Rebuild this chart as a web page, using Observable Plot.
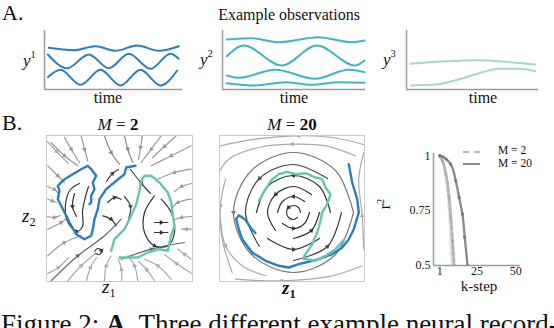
<!DOCTYPE html>
<html><head><meta charset="utf-8">
<script src="https://cdn.jsdelivr.net/npm/d3@7"></script>
<script src="https://cdn.jsdelivr.net/npm/@observablehq/plot@0.6"></script>
<style>
body{margin:0;background:#fff;width:554px;height:328px;overflow:hidden;position:relative;font-family:"Liberation Serif",serif;color:#111;}
.abs{position:absolute;white-space:nowrap;line-height:1;}
.p{position:absolute;}
.p svg{display:block;background:transparent;}
</style></head><body>
<script>
// ---------- Panel A data (time, value) ----------
const a1Lines = [
 [[4.3,41.7],[29.3,39.3],[51,43.3],[71,38.7],[92.7,44],[114.3,38.7],[134.3,43.3]],
 [[3.3,35],[22.7,21.3],[44.3,35],[64.3,21.3],[84.3,35.7],[106,20.7],[126,35.7],[134.3,30.7]],
 [[3.3,12.3],[16,19.7],[36,4.7],[56,19.7],[76,4],[96,19.7],[116,4],[132.7,19]]
];
const a2Lines = [
 [[4.3,50],[29.3,51.3],[56,47.3],[96,52.3],[129.3,47.3],[142,49]],
 [[4.3,33.3],[21,44],[59.3,24],[94.3,44],[132.7,24],[142,29]],
 [[4.3,14],[16,11.7],[52.7,19.7],[92.7,10.7],[126,19.7],[142,17.3]],
 [[4.3,6.3],[32.7,4],[62.7,7.3],[89.3,4.7],[116,7.3],[142,6.7]]
];
const a3Lines = [
 [[4.3,25.7],[36,28],[72.7,29.3],[96,28],[128.7,25]],
 [[4.3,4],[29.3,5],[56,11.3],[76,17.3],[92.7,20.7],[112.7,20.7],[128.7,18.3]]
];
const colA = ["#2c7fb8","#41b6c4","#a8dcb8"];

// ---------- Panel B: streamlines (z1, z2) ----------
const m2Streams = [
 ["#999",[[4.7,139],[18,125.7],[31.3,115.7]]],
 ["#999",[[18,144],[24.7,132.3],[33,119]]],
 ["#999",[[34.7,145.7],[38,132.3],[41.3,120.7]]],
 ["#888",[[58,145.7],[64.7,129],[73,117.3]]],
 ["#888",[[78,145.7],[81.3,132.3],[86.3,119]]],
 ["#999",[[114.7,145.7],[104.7,132.3],[94.7,119]]],
 ["#999",[[144.7,135.7],[124.7,125.7],[104.7,115.7]]],
 ["#999",[[144.7,112.3],[128,109],[111.3,102.3]]],
 ["#999",[[1.3,115.7],[11.3,105.7],[18,99]]],
 ["#999",[[1.3,82.3],[6,80.5],[9.7,79]]],
 ["#999",[[1.3,52.3],[14.7,59],[21.3,64]]],
 ["#999",[[1.3,25.7],[18,39],[34.7,45.7]]],
 ["#666",[[4.7,0.7],[31.3,25.7],[58,45.7],[74.7,62.3]]],
 ["#aaa",[[21.3,0.7],[34.7,15.7],[48,27.3]]],
 ["#aaa",[[58,0.7],[59.7,15.7],[64.7,25.7]]],
 ["#aaa",[[91.3,0.7],[88,15.7],[81.3,25.7]]],
 ["#aaa",[[124.7,2.3],[111.3,15.7],[98,22.3]]],
 ["#666",[[74.7,22.3],[104.7,32.3],[138,39]]],
 ["#999",[[144.7,82.3],[131.3,79],[124.7,72.3]]],
 ["#999",[[144.7,52.3],[139.7,52.3],[134.7,52.3]]],
 ["#aaa",[[144.7,22.3],[138,27.3],[131.3,32.3]]],
 ["#aaa",[[1,140],[10,130],[22,118]]],
 ["#999",[[1,95],[8,92],[12,88]]],
 ["#999",[[1,65],[8,64],[14,66]]],
 ["#aaa",[[1,8],[12,14],[22,24]]],
 ["#aaa",[[40,1],[44,14],[50,24]]],
 ["#aaa",[[75,1],[75,12],[72,22]]],
 ["#aaa",[[108,1],[100,12],[92,20]]],
 ["#aaa",[[145,8],[130,18],[118,27]]],
 ["#999",[[145,65],[135,64],[128,62]]],
 ["#999",[[145,98],[135,95],[128,90]]],
 ["#999",[[130,146],[118,135],[106,124]]],
 ["#999",[[96,146],[94,134],[92,122]]],
 ["#444",[[84,112],[95,98],[104,88]]],
 ["#444",[[60,100],[66,108],[72,112]]],
 ["#444",[[78,85],[84,75],[82,62]]],
 ["#333",[[33,98],[24,92],[19,77],[21,60],[30,50],[36,55],[36,70],[39,85],[42,95]]],
 ["#333",[[28,88],[26,75],[30,65]]],
 ["#333",[[61.3,79],[68,84],[74.7,82.3]]],
 ["#333",[[56.3,65.7],[64.7,62.3],[69.7,55.7]]],
 ["#333",[[48,30],[51,33],[55,31],[53,27],[49,28]]],
 ["#333",[[108,85.7],[98,69],[98,49],[108,35.7],[121.3,35.7],[128,49],[124.7,69],[114.7,82.3]]],
 ["#333",[[108,59],[114.7,59],[121.3,59]]],
 ["#333",[[108,49],[114.7,49],[121.3,49]]]
];
const m20Streams = [
 ["#333",[[81,69],[79,74],[74,76],[69,74],[67,69],[69,64],[74,62],[78,64]]],
 ["#333",[[85,80],[74,85],[63,80],[58,69]]],
 ["#333",[[63,58],[74,53],[85,58],[90,69]]],
 ["#333",[[92,87],[74,95],[56,87],[48,69],[56,51]]],
 ["#333",[[74,43],[92,51],[100,69]]],
 ["#333",[[111,69],[100,95],[74,106],[48,95],[37,69]]],
 ["#333",[[48,43],[74,32],[100,43]]],
 ["#444",[[108,103],[74,117],[40,103],[26,69],[40,35]]],
 ["#444",[[74,21],[108,35],[122,69]]],
 ["#777",[[134,69],[116,111],[74,129],[32,111],[14,69],[32,27],[74,9],[116,27],[134,69]]],
 ["#aaa",[[149.3,135.7],[112.7,144],[79.3,145.7],[36,142.3],[1,135.7]]],
 ["#aaa",[[136,125.7],[106,135.7],[72.7,137.3],[39.3,134],[9.3,122.3],[-0.7,109]]],
 ["#aaa",[[6,102.3],[1,75.7],[2.7,42.3],[12.7,9]]],
 ["#aaa",[[16,2.3],[62.7,0.7],[112.7,5.7],[142.7,15.7]]],
 ["#aaa",[[144.3,32.3],[142.7,65.7],[139.3,102.3],[144.3,129]]],
 ["#aaa",[[1,62.3],[6,35.7],[22.7,15.7],[46,5.7]]]
];
const m2Blue = [[89,115.7],[79.7,114],[78,107.3],[69.7,100.7],[59.7,92.3],[53,82.3],[51.3,72.3],[48,62.3],[46.3,52.3],[44.7,45.7],[38,42.3],[29.7,47.3],[23,59],[19.7,65.7],[14.7,75.7],[11.3,82.3],[13,90.7],[11.3,95.7],[18,102.3],[26.3,107.3],[34.7,112.3],[41.3,115.7],[44.7,112.3],[49.7,105.7],[46.3,99],[48,92.3],[44.7,85.7],[44.7,79],[43,77.3]];
const m2Teal = [[64.7,30.7],[68,42.3],[78,52.3],[84.7,65.7],[89.7,77.3],[93,90.7],[94.7,100.7],[98,105.7],[104.7,105.7],[113,99],[121.3,89],[124.7,79],[126.3,65.7],[128,55.7],[124.7,45.7],[123,39],[121.3,30.7],[113,32.3],[101.3,29],[91.3,24],[73,24]];
const m20Teal = [[39.3,80.7],[46,92.3],[52.7,102.3],[59.3,107.3],[67.7,109.7],[76,107.3],[86,108.3],[96,104],[102.7,102.3],[106,94],[111,87.3],[107.7,77.3],[102.7,69],[101,60.7],[97.7,49],[92.7,37.3],[86,27.3],[83.3,23],[96,20.7],[106,25.7],[116,32.3],[124.3,41.7]];
const m20Blue = [[129.3,117.3],[132.7,99],[137.7,82.3],[139.3,69],[134.3,52.3],[129.3,42.3],[122.7,34],[112.7,27.3],[99.3,22.3],[86,19],[79.3,17.3],[69.3,14],[59.3,15.7],[46,20.7],[32.7,29],[22.7,42.3],[19.3,52.3],[16.7,62.3],[19.3,66.3],[26,61.7],[31,54],[36,48.3]];
const trajBlue = "#2c7fb8", trajTeal = "#66c6b4";

// ---------- Panel B right: r^2 vs k-step ----------
const kM2 = [1,2.7,4.9,7,8.1,9.2,10.2];
const r2M2 = [1,0.977,0.917,0.81,0.72,0.61,0.5];
const kM20 = [1,3,5,8,11.3,13.5,15.6,17.1,18.9];
const r2M20 = [1,0.995,0.985,0.962,0.886,0.81,0.735,0.63,0.5];
const bandR2 = [1,0.97,0.88,0.75,0.6,0.5];
const bandLo = [1,3,5,6.5,7.5,8.3];
const bandHi = [1,4,7,9,10.5,11.5];
const kTicks = [1,25,50];
const r2Ticks = [0.5,0.75,1];

// ---------- helpers ----------
function place(node, left, top){const d=document.createElement("div");d.className="p";d.style.left=left+"px";d.style.top=top+"px";d.appendChild(node);document.body.appendChild(d);}
function T(html,x,base,size,anchor,extra){const d=document.createElement("div");d.className="abs";d.innerHTML=html;d.style.fontSize=size+"px";d.style.left=x+"px";d.style.top=(base-0.8375*size)+"px";if(anchor==="middle")d.style.transform="translateX(-50%)";if(anchor==="end")d.style.transform="translateX(-100%)";if(extra)d.setAttribute("style",d.getAttribute("style")+";"+extra);document.body.appendChild(d);return d;}
const rows = (lines) => lines.flatMap((l,i)=>l.map(([x,y])=>({x,y,id:i})));
const srows = (streams) => streams.flatMap(([c,pts],i)=>pts.map(([x,y])=>({x,y,id:i,c})));
// arrowheads at the middle vertex of each streamline, oriented along it
const arrows = (streams) => streams.filter(([c,p])=>p.length>=3).map(([c,p])=>{
  const m=Math.floor((p.length-1)/2), a=p[Math.max(0,m-1)], b=p[Math.min(p.length-1,m+1)];
  return {x:p[m][0],y:p[m][1],c,rot:Math.atan2(b[0]-a[0],b[1]-a[1])*180/Math.PI};
});

function panelA(lines,color,w,x0,y0){
  const svg = Plot.plot({width:w+6,height:59+6,margin:3,
    x:{domain:[0,w],axis:null},y:{domain:[0,59],axis:null},
    marks:[
      Plot.ruleX([0],{stroke:"#9a9a9a",strokeWidth:1.5}),
      Plot.ruleY([0],{stroke:"#9a9a9a",strokeWidth:1.5}),
      Plot.line(rows(lines),{x:"x",y:"y",z:"id",stroke:color,strokeWidth:2,curve:"monotone-x"})
    ]});
  place(svg,x0-3,y0-3);
}
panelA(a1Lines,colA[0],138,44,30);
panelA(a2Lines,colA[1],143,222,30);
panelA(a3Lines,colA[2],132,406,30);

function stream(streams,blue,teal,w,x0,y0){
  const svg = Plot.plot({width:w+6,height:146+6,margin:3,
    x:{domain:[0,w],axis:null},y:{domain:[0,146],axis:null},color:{type:"identity"},
    marks:[
      Plot.line(srows(streams),{x:"x",y:"y",z:"id",stroke:"c",strokeWidth:1.2,curve:"catmull-rom",clip:true}),
      Plot.dot(arrows(streams),{x:"x",y:"y",fill:"c",symbol:"triangle",r:1.8,rotate:"rot",clip:true}),
      Plot.line(blue,{x:d=>d[0],y:d=>d[1],stroke:trajBlue,strokeWidth:2.4,clip:true}),
      Plot.line(teal,{x:d=>d[0],y:d=>d[1],stroke:trajTeal,strokeWidth:2.4,clip:true}),
      Plot.frame({stroke:"#c8c8c8"})
    ]});
  place(svg,x0-3,y0-3);
}
stream(m2Streams,m2Blue,m2Teal,146,46,135);
stream(m20Streams,m20Blue,m20Teal,145,219,135);

// right panel
{
  const m2 = kM2.map((k,i)=>({k,r:r2M2[i]}));
  const m20 = kM20.map((k,i)=>({k,r:r2M20[i]}));
  const band = bandR2.map((r,i)=>({r,lo:bandLo[i],hi:bandHi[i]}));
  const svg = Plot.plot({width:137,height:157,marginLeft:40,marginRight:10,marginTop:10,marginBottom:35,
    style:{fontFamily:"Liberation Serif",fontSize:"12px",color:"#222"},
    x:{domain:[-3,53]},y:{domain:[0.5,1.01]},
    marks:[
      Plot.areaX(band,{y:"r",x1:"lo",x2:"hi",fill:"#e6e6e6",curve:"monotone-y",clip:true}),
      Plot.line(m2,{x:"k",y:"r",stroke:"#b5b5b5",strokeWidth:3,strokeDasharray:"4,2.5",curve:"monotone-y",clip:true}),
      Plot.dot(m2,{x:"k",y:"r",r:1.3,fill:"#aaa",clip:true}),
      Plot.line(m20,{x:"k",y:"r",stroke:"#8a8a8a",strokeWidth:2.3,curve:"monotone-y",clip:true}),
      Plot.dot(m20,{x:"k",y:"r",r:1.6,fill:"#777",clip:true}),
      Plot.ruleX([-3],{stroke:"#9a9a9a",strokeWidth:1.5}),
      Plot.ruleY([0.5],{stroke:"#9a9a9a",strokeWidth:1.5}),
      Plot.axisX({ticks:kTicks,tickSize:0,tickPadding:1,label:null,fontSize:12}),
      Plot.axisY({ticks:r2Ticks,tickSize:0,tickPadding:3,label:null,fontSize:12,tickFormat:d=>String(d)})
    ]});
  place(svg,393,143);
}

// ---------- text ----------
T("A.",2,20,22);
T("B.",2,130,22);
T("Example observations",289,20.5,16,"middle");
T("time",108,103.5,16,"middle");
T("time",294,103.5,16,"middle");
T("time",483,103.5,16,"middle");
T('<i>y</i><span style="font-size:0.62em;position:relative;top:-0.75em">1</span>',23,66,17);
T('<i>y</i><span style="font-size:0.62em;position:relative;top:-0.75em">2</span>',200,65,17);
T('<i>y</i><span style="font-size:0.62em;position:relative;top:-0.75em">3</span>',383,65,17);
T('<i>M</i> = <b>2</b>',118,130,17,"middle");
T('<i>M</i> = <b>20</b>',292,130,17,"middle");
T('<i>z</i><span style="font-size:0.65em;position:relative;top:0.35em">2</span>',22,222,19);
T('<i>z</i><span style="font-size:0.65em;position:relative;top:0.35em">1</span>',102,293,19);
T('<b><i>z</i><span style="font-size:0.65em;position:relative;top:0.35em">1</span></b>',282,294,19);
T("k-step",479,291.5,15,"middle");
{const d=T('r<span style="font-size:0.65em;position:relative;top:-0.6em">2</span>',385,209,16,"middle");d.style.transform="translate(-50%,0) rotate(-90deg)";}
// legend
T('<span style="display:inline-block;width:17px;border-top:2.5px dashed #bbb;vertical-align:middle;margin-right:18px"></span>M = 2',463,155,11.5);
T('<span style="display:inline-block;width:17px;border-top:2.5px solid #888;vertical-align:middle;margin-right:18px"></span>M = 20',463,167.5,11.5);
// caption
T('Figure 2: <b>A.</b> Three different example neural record-',1,334,27);
</script>
</body></html>
